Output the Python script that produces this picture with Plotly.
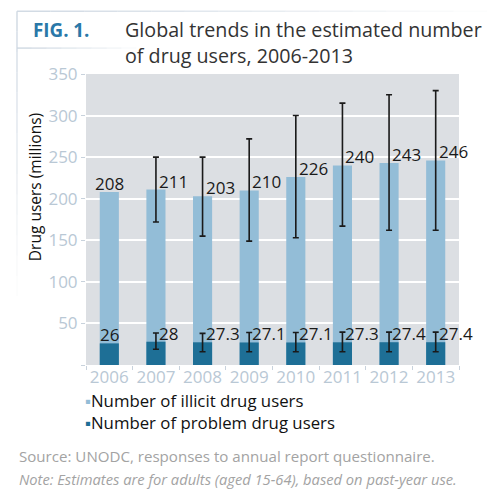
import plotly.graph_objects as go

years = ["2006", "2007", "2008", "2009", "2010", "2011", "2012", "2013"]
illicit = [208, 211, 203, 210, 226, 240, 243, 246]
illicit_high = [None, 250, 250, 272, 300, 315, 325, 330]
illicit_low = [None, 172, 155, 149, 153, 167, 162, 162]
problem = [26, 28, 27.3, 27.1, 27.1, 27.3, 27.4, 27.4]
problem_high = [None, 38.5, 38, 39, 39, 39.5, 39.5, 39.5]
problem_low = [None, 19, 16, 16, 16, 16, 16, 16]
problem_labels = ["26", "28", "27.3", "27.1", "27.1", "27.3", "27.4", "27.4"]
yticks = [0, 50, 100, 150, 200, 250, 300, 350]
series_names = ["Number of illicit drug users", "Number of problem drug users"]

FONT = "Open Sans"
LIGHT = "#93bdd7"
DARK = "#1e6f96"

idx = list(range(len(years)))


def err(vals, hi, lo):
    plus = [(h - v) if h is not None else 0 for v, h in zip(vals, hi)]
    minus = [(v - l) if l is not None else 0 for v, l in zip(vals, lo)]
    vis = [h is not None for h in hi]
    return plus, minus, vis


ip, im, ivis = err(illicit, illicit_high, illicit_low)
pp, pm, pvis = err(problem, problem_high, problem_low)

fig = go.Figure()
fig.add_trace(go.Bar(x=idx, y=illicit, name=series_names[0], showlegend=False,
                     marker=dict(color=LIGHT, line=dict(width=0)), width=0.41))
fig.add_trace(go.Bar(x=idx, y=problem, name=series_names[1], showlegend=False,
                     marker=dict(color=DARK, line=dict(width=0)), width=0.41))
for vals, plus, minus, vis in [(illicit, ip, im, ivis), (problem, pp, pm, pvis)]:
    fig.add_trace(go.Scatter(
        x=[i for i, s in zip(idx, vis) if s], y=[v for v, s in zip(vals, vis) if s],
        mode="markers", marker=dict(size=1, color="rgba(0,0,0,0)"), showlegend=False, hoverinfo="skip",
        error_y=dict(type="data", symmetric=False,
                     array=[p for p, s in zip(plus, vis) if s],
                     arrayminus=[m for m, s in zip(minus, vis) if s],
                     color="#1a1a1a", thickness=1.6, width=3)))

ann = []
for i in idx:
    for val, txt, has_err in [(illicit[i], str(illicit[i]), ivis[i]), (problem[i], problem_labels[i], pvis[i])]:
        ann.append(dict(x=i, y=val, text=txt, showarrow=False,
                        xanchor="left" if has_err else "center", xshift=1 if has_err else 0,
                        yanchor="bottom", yshift=-5,
                        font=dict(family=FONT, size=17, color="#1a1a1a")))

# custom legend (one text block, two lines)
legend_text = "<br>".join(f"<span style='color:{col}'>▪</span>{nm}"
                          for nm, col in zip(series_names, [LIGHT, DARK]))
ann.append(dict(xref="paper", yref="paper", x=-0.008, y=-0.161,
                text=legend_text, showarrow=False, align="left",
                xanchor="left", yanchor="middle",
                font=dict(family=FONT, size=16.8, color="#111111")))

ann += [
    dict(xref="paper", yref="paper", x=-0.147, y=1.152, text="<b>FIG. 1.</b>", showarrow=False,
         xanchor="left", yanchor="middle", font=dict(family=FONT, size=18.8, color="#2a78a8")),
    dict(xref="paper", yref="paper", x=0.098, y=1.107,
         text="Global trends in the estimated number<br>of drug users, 2006-2013", showarrow=False,
         xanchor="left", yanchor="middle", align="left",
         font=dict(family=FONT, size=19.7, color="#333333")),
    dict(xref="paper", yref="paper", x=-0.135, y=0.61,
         text="Drug users (millions)", showarrow=False, textangle=-90,
         xanchor="center", yanchor="middle", font=dict(family=FONT, size=15.5, color="#111111")),
    dict(xref="paper", yref="paper", x=-0.185, y=-0.312,
         text="Source: UNODC, responses to annual report questionnaire.", showarrow=False,
         xanchor="left", yanchor="middle", font=dict(family=FONT, size=15.1, color="#a3a3a3")),
    dict(xref="paper", yref="paper", x=-0.185, y=-0.392,
         text="<i>Note: Estimates are for adults (aged 15-64), based on past-year use.</i>", showarrow=False,
         xanchor="left", yanchor="middle", font=dict(family=FONT, size=14.7, color="#a3a3a3")),
]

shapes = []
for k in range(14):
    op = 0.9 * (1 - k / 14)
    shapes.append(dict(type="line", xref="paper", yref="paper",
                       x0=-0.185 + k * 0.09, x1=-0.185 + (k + 1) * 0.09, y0=1.216, y1=1.216,
                       line=dict(color=f"rgba(205,215,225,{op:.2f})", width=1.5)))
    shapes.append(dict(type="line", xref="paper", yref="paper",
                       x0=-0.185, x1=-0.185, y0=1.216 - k * 0.07, y1=1.216 - (k + 1) * 0.07,
                       line=dict(color=f"rgba(205,215,225,{op:.2f})", width=1.5)))
for k in range(8):
    op = 0.9 * (1 - k / 8)
    shapes.append(dict(type="line", xref="paper", yref="paper",
                       x0=-0.185 + k * 0.04, x1=-0.185 + (k + 1) * 0.04, y0=1.089, y1=1.089,
                       line=dict(color=f"rgba(205,215,225,{op:.2f})", width=1.5)))

bounds = [i - 0.5 for i in idx] + [idx[-1] + 0.5]

fig.update_layout(
    width=500, height=496, barmode="overlay", showlegend=False,
    margin=dict(l=86, r=41, t=74, b=131, autoexpand=False),
    paper_bgcolor="white", plot_bgcolor="#dcdfe3",
    font=dict(family=FONT),
    annotations=ann, shapes=shapes,
    xaxis=dict(range=[-0.5, len(years) - 0.5], tickvals=idx, ticktext=years,
               tickfont=dict(family=FONT, size=17, color="#b9c8d5"),
               ticks="", showgrid=False, showline=False, zeroline=False, automargin=False,
               minor=dict(tickvals=bounds, ticks="outside", ticklen=4, tickcolor="#c8d2dc", showgrid=False)),
    yaxis=dict(range=[0, 350], tickvals=yticks, ticktext=["" if v == 0 else str(v) for v in yticks],
               tickfont=dict(family=FONT, size=17, color="#b9c8d5"), ticks="outside", ticklen=4,
               tickcolor="#c8d2dc", gridcolor="white", gridwidth=1.5, zeroline=False, automargin=False),
)

fig.write_html("out.html", config={"displayModeBar": False},
               post_script="document.body.style.margin='0';document.body.style.overflow='hidden';")
